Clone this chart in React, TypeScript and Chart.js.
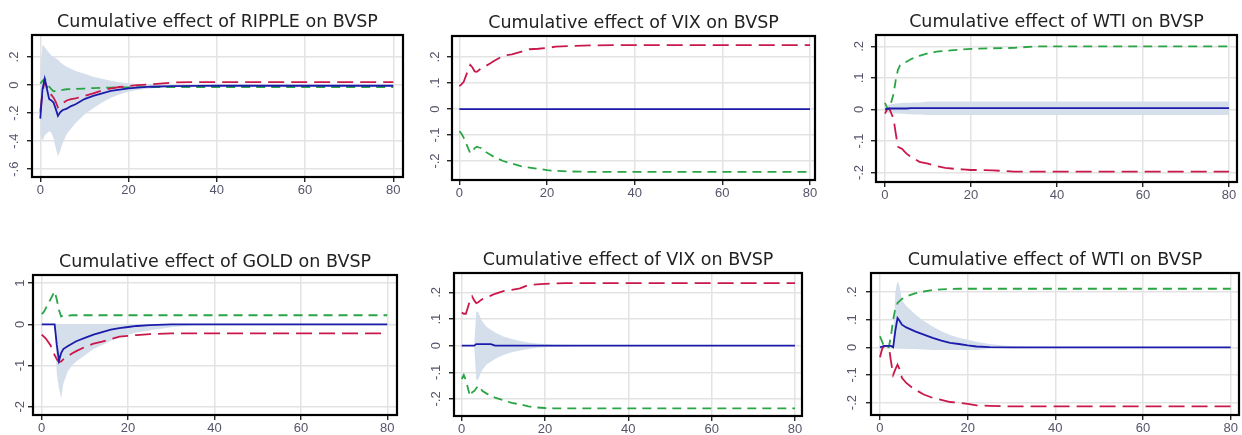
import React, { useEffect, useRef } from "react";
import { Chart, registerables } from "chart.js";

Chart.register(...registerables);

// ---------- data ----------
const STEPS = [0, 0.5, 1, 2, 2.5, 3, 3.5, 4, 4.5, 5, 6, 7, 8, 10, 12, 14, 16, 18, 20, 22, 25, 30, 35, 40, 80];
const X_TICKS = [0, 20, 40, 60, 80];
const X_TICK_LABELS = ["0", "20", "40", "60", "80"];

const Y_TICKS_RIPPLE = [-0.6, -0.4, -0.2, 0, 0.2];
const Y_LABELS_RIPPLE = ["-.6", "-.4", "-.2", "0", ".2"];
const Y_TICKS_SMALL = [-0.2, -0.1, 0, 0.1, 0.2];
const Y_LABELS_SMALL = ["-.2", "-.1", "0", ".1", ".2"];
const Y_TICKS_GOLD = [-2, -1, 0, 1];
const Y_LABELS_GOLD = ["-2", "-1", "0", "1"];

const TITLES = [
  "Cumulative effect of RIPPLE on BVSP",
  "Cumulative effect of VIX on BVSP",
  "Cumulative effect of WTI on BVSP",
  "Cumulative effect of GOLD on BVSP",
  "Cumulative effect of VIX on BVSP",
  "Cumulative effect of WTI on BVSP",
];

// Panel 1: RIPPLE
const RIPPLE_IRF = [-0.24, -0.03, 0.045, -0.1, -0.11, -0.125, -0.17, -0.22, -0.195, -0.18, -0.168, -0.15, -0.137, -0.1, -0.078, -0.06, -0.042, -0.033, -0.024, -0.018, -0.012, -0.008, -0.006, -0.005, -0.005];
const RIPPLE_HI = [0.1, 0.29, 0.27, 0.23, 0.21, 0.2, 0.19, 0.18, 0.165, 0.15, 0.13, 0.115, 0.1, 0.08, 0.06, 0.045, 0.03, 0.02, 0.012, 0.008, 0.005, 0.0, -0.005, -0.005, -0.005];
const RIPPLE_LO = [-0.35, -0.4, -0.36, -0.33, -0.34, -0.38, -0.45, -0.51, -0.47, -0.42, -0.35, -0.31, -0.27, -0.21, -0.165, -0.125, -0.09, -0.066, -0.047, -0.035, -0.024, -0.012, -0.006, -0.005, -0.005];
const RIPPLE_RED = [-0.19, -0.05, 0.03, -0.055, -0.07, -0.09, -0.12, -0.16, -0.145, -0.13, -0.11, -0.1, -0.095, -0.078, -0.06, -0.038, -0.024, -0.014, -0.007, 0.0, 0.005, 0.018, 0.021, 0.021, 0.021];
const RIPPLE_GREEN = [0.01, 0.03, 0.045, -0.01, -0.03, -0.045, -0.042, -0.04, -0.037, -0.035, -0.03, -0.029, -0.028, -0.025, -0.022, -0.02, -0.018, -0.017, -0.016, -0.015, -0.015, -0.014, -0.014, -0.014, -0.014];

// Panel 2: VIX (top)
const VIX1_IRF = [0, 0, 0, 0, 0, 0, 0, 0, 0, 0, 0, 0, 0, 0, 0, 0, 0, 0, 0, 0, 0, 0, 0, 0, 0];
const VIX1_RED = [0.088, 0.095, 0.105, 0.15, 0.17, 0.16, 0.145, 0.143, 0.15, 0.156, 0.165, 0.175, 0.186, 0.205, 0.21, 0.22, 0.23, 0.232, 0.235, 0.24, 0.242, 0.245, 0.246, 0.246, 0.246];
const VIX1_GREEN = [-0.085, -0.095, -0.11, -0.15, -0.17, -0.165, -0.15, -0.145, -0.148, -0.15, -0.165, -0.175, -0.185, -0.2, -0.21, -0.22, -0.225, -0.23, -0.235, -0.238, -0.24, -0.242, -0.242, -0.242, -0.242];

// Panel 3: WTI (top)
const WTI1_IRF = [0.0, 0.002, 0.003, 0.003, 0.003, 0.003, 0.003, 0.003, 0.003, 0.003, 0.004, 0.004, 0.004, 0.004, 0.004, 0.004, 0.004, 0.004, 0.004, 0.004, 0.004, 0.004, 0.004, 0.004, 0.004];
const WTI1_HI = [0.005, 0.012, 0.015, 0.018, 0.019, 0.02, 0.02, 0.021, 0.021, 0.021, 0.021, 0.022, 0.022, 0.025, 0.025, 0.025, 0.025, 0.025, 0.025, 0.025, 0.025, 0.025, 0.025, 0.025, 0.025];
const WTI1_LO = [-0.005, -0.01, -0.012, -0.013, -0.013, -0.013, -0.014, -0.014, -0.014, -0.015, -0.015, -0.016, -0.016, -0.018, -0.018, -0.018, -0.018, -0.018, -0.018, -0.018, -0.018, -0.018, -0.018, -0.018, -0.018];
const WTI1_RED = [-0.013, 0.0, 0.003, -0.03, -0.076, -0.118, -0.122, -0.125, -0.133, -0.14, -0.15, -0.158, -0.166, -0.172, -0.18, -0.185, -0.188, -0.19, -0.192, -0.192, -0.193, -0.197, -0.197, -0.197, -0.197];
const WTI1_GREEN = [0.021, 0.005, 0.0, 0.05, 0.093, 0.125, 0.14, 0.146, 0.148, 0.151, 0.159, 0.165, 0.17, 0.178, 0.183, 0.186, 0.188, 0.19, 0.192, 0.193, 0.194, 0.195, 0.2, 0.2, 0.2];

// Panel 4: GOLD
const GOLD_IRF = [0, 0, 0, 0, 0, 0, -0.5, -0.88, -0.7, -0.6, -0.53, -0.47, -0.41, -0.33, -0.25, -0.19, -0.13, -0.09, -0.065, -0.04, -0.02, 0, 0, 0, 0];
const GOLD_HI = [0, 0, 0, 0, 0, 0, 0, 0, 0, 0, 0, 0, 0, 0, 0, 0, 0, 0, 0, 0, 0, 0, 0, 0, 0];
const GOLD_LO = [0, 0, 0, 0, 0, 0, -1.2, -1.55, -1.8, -1.45, -1.15, -1.0, -0.9, -0.75, -0.6, -0.5, -0.4, -0.32, -0.25, -0.2, -0.15, -0.07, -0.02, 0, 0];
const GOLD_RED = [-0.25, -0.3, -0.35, -0.5, -0.62, -0.75, -0.85, -0.92, -0.9, -0.85, -0.78, -0.71, -0.65, -0.55, -0.47, -0.42, -0.36, -0.3, -0.28, -0.26, -0.24, -0.22, -0.22, -0.22, -0.22];
const GOLD_GREEN = [0.25, 0.3, 0.4, 0.6, 0.7, 0.8, 0.6, 0.35, 0.19, 0.22, 0.21, 0.22, 0.22, 0.22, 0.22, 0.22, 0.22, 0.22, 0.22, 0.22, 0.22, 0.22, 0.22, 0.22, 0.22];

// Panel 5: VIX (bottom)
const VIX2_IRF = [0, 0, 0, 0, 0, 0, 0.006, 0.006, 0.006, 0.006, 0.006, 0.006, 0, 0, 0, 0, 0, 0, 0, 0, 0, 0, 0, 0, 0];
const VIX2_HI = [0, 0, 0, 0, 0, 0, 0.13, 0.125, 0.105, 0.09, 0.07, 0.06, 0.05, 0.035, 0.025, 0.018, 0.012, 0.008, 0.006, 0.004, 0.003, 0.0015, 0, 0, 0];
const VIX2_LO = [0, 0, 0, 0, 0, 0, -0.13, -0.125, -0.105, -0.09, -0.07, -0.06, -0.05, -0.035, -0.025, -0.018, -0.012, -0.008, -0.006, -0.004, -0.003, -0.0015, 0, 0, 0];
const VIX2_RED = [0.125, 0.12, 0.12, 0.17, 0.185, 0.17, 0.16, 0.163, 0.17, 0.175, 0.18, 0.188, 0.195, 0.205, 0.21, 0.215, 0.228, 0.23, 0.232, 0.234, 0.235, 0.235, 0.235, 0.235, 0.235];
const VIX2_GREEN = [-0.125, -0.11, -0.13, -0.19, -0.175, -0.17, -0.16, -0.15, -0.16, -0.17, -0.18, -0.188, -0.195, -0.205, -0.215, -0.22, -0.228, -0.232, -0.234, -0.235, -0.235, -0.235, -0.235, -0.235, -0.235];

// Panel 6: WTI (bottom)
const WTI2_IRF = [0, 0.003, 0.005, 0.005, 0.005, 0.0, 0.06, 0.106, 0.095, 0.082, 0.072, 0.065, 0.058, 0.046, 0.034, 0.024, 0.016, 0.012, 0.007, 0.003, 0.001, 0, 0, 0, 0];
const WTI2_HI = [0, 0.003, 0.005, 0.005, 0.005, 0.005, 0.2, 0.24, 0.22, 0.17, 0.15, 0.135, 0.12, 0.095, 0.075, 0.058, 0.045, 0.035, 0.027, 0.02, 0.012, 0.004, 0, 0, 0];
const WTI2_LO = [0, 0, 0, 0, 0, 0, -0.003, -0.004, -0.005, -0.005, -0.005, -0.006, -0.006, -0.008, -0.01, -0.01, -0.01, -0.01, -0.01, -0.01, -0.005, -0.002, 0, 0, 0];
const WTI2_RED = [-0.036, -0.005, 0.005, 0.005, -0.05, -0.1, -0.08, -0.063, -0.08, -0.11, -0.129, -0.142, -0.153, -0.171, -0.183, -0.19, -0.198, -0.2, -0.205, -0.21, -0.212, -0.214, -0.214, -0.214, -0.214];
const WTI2_GREEN = [0.04, 0.02, 0.0, 0.0, 0.04, 0.1, 0.14, 0.16, 0.168, 0.175, 0.184, 0.19, 0.195, 0.202, 0.207, 0.21, 0.211, 0.212, 0.212, 0.212, 0.212, 0.212, 0.212, 0.212, 0.212];

// ---------- styles ----------
const BLUE = "#1c1cab";
const RED = "#c9194b";
const GREEN = "#2aa545";
const BAND = "#d5dfec";
const GRID = "#e3e3e3";
const TICK_TEXT = "#55556a";
const FONT_TICK = { family: "'Liberation Sans', Arial, sans-serif", size: 13 };
const FONT_TITLE = { family: "'DejaVu Sans', sans-serif", size: 17.5, weight: "normal" as const };

type PanelCfg = {
  title: string;
  box: { l: number; t: number; r: number; b: number };
  xMin: number; xMax: number; yMin: number; yMax: number;
  yTicks: number[]; yLabels: string[]; labelPad: number;
  irf: number[]; hi: number[] | null; lo: number[] | null; red: number[]; green: number[];
};

const PANELS: PanelCfg[] = [
  { title: TITLES[0], box: { l: 32, t: 35, r: 403, b: 176.5 }, xMin: -1.88, xMax: 82.2, yMin: -0.656, yMax: 0.357,
    yTicks: Y_TICKS_RIPPLE, yLabels: Y_LABELS_RIPPLE, labelPad: 4.5,
    irf: RIPPLE_IRF, hi: RIPPLE_HI, lo: RIPPLE_LO, red: RIPPLE_RED, green: RIPPLE_GREEN },
  { title: TITLES[1], box: { l: 452, t: 36, r: 815, b: 180 }, xMin: -1.67, xMax: 81.14, yMin: -0.273, yMax: 0.281,
    yTicks: Y_TICKS_SMALL, yLabels: Y_LABELS_SMALL, labelPad: 4,
    irf: VIX1_IRF, hi: null, lo: null, red: VIX1_RED, green: VIX1_GREEN },
  { title: TITLES[2], box: { l: 876, t: 35, r: 1237, b: 181.7 }, xMin: -2.09, xMax: 81.86, yMin: -0.23, yMax: 0.236,
    yTicks: Y_TICKS_SMALL, yLabels: Y_LABELS_SMALL, labelPad: 4,
    irf: WTI1_IRF, hi: WTI1_HI, lo: WTI1_LO, red: WTI1_RED, green: WTI1_GREEN },
  { title: TITLES[3], box: { l: 33, t: 275, r: 397, b: 415 }, xMin: -2.01, xMax: 82.25, yMin: -2.2, yMax: 1.197,
    yTicks: Y_TICKS_GOLD, yLabels: Y_LABELS_GOLD, labelPad: 1.5,
    irf: GOLD_IRF, hi: GOLD_HI, lo: GOLD_LO, red: GOLD_RED, green: GOLD_GREEN },
  { title: TITLES[4], box: { l: 454, t: 273, r: 802, b: 416 }, xMin: -1.85, xMax: 81.68, yMin: -0.264, yMax: 0.273,
    yTicks: Y_TICKS_SMALL, yLabels: Y_LABELS_SMALL, labelPad: 5,
    irf: VIX2_IRF, hi: VIX2_HI, lo: VIX2_LO, red: VIX2_RED, green: VIX2_GREEN },
  { title: TITLES[5], box: { l: 871, t: 273, r: 1239, b: 415 }, xMin: -2.05, xMax: 81.9, yMin: -0.245, yMax: 0.269,
    yTicks: Y_TICKS_SMALL, yLabels: Y_LABELS_SMALL, labelPad: 5.5,
    irf: WTI2_IRF, hi: WTI2_HI, lo: WTI2_LO, red: WTI2_RED, green: WTI2_GREEN },
];

const AXIS_W = 30;
const TITLE_H = 24;
const XAXIS_H = 28;

const framePlugin = {
  id: "frame",
  afterDraw(chart: any) {
    const { ctx, chartArea: a } = chart;
    ctx.save();
    ctx.strokeStyle = "#000";
    ctx.lineWidth = 2.2;
    ctx.strokeRect(a.left, a.top, a.right - a.left, a.bottom - a.top);
    ctx.restore();
  },
};

function Panel({ cfg }: { cfg: PanelCfg }) {
  const ref = useRef<HTMLCanvasElement>(null);
  const { l, t, r, b } = cfg.box;
  const W = Math.round(r - l) + 2 * AXIS_W;
  const H = Math.round(b - t) + TITLE_H + XAXIS_H;

  useEffect(() => {
    if (!ref.current) return;
    const pts = (arr: number[]) => STEPS.map((x, i) => ({ x, y: arr[i] }));
    const datasets: any[] = [];
    if (cfg.lo && cfg.hi) {
      datasets.push({ data: pts(cfg.lo), borderWidth: 0, borderColor: "rgba(0,0,0,0)", pointRadius: 0, fill: false, order: 10 });
      datasets.push({ data: pts(cfg.hi), borderWidth: 0, borderColor: "rgba(0,0,0,0)", pointRadius: 0, fill: "-1", backgroundColor: BAND, order: 9 });
    }
    datasets.push({ data: pts(cfg.green), borderColor: GREEN, borderDash: [9, 6], borderWidth: 1.8, pointRadius: 0, fill: false, order: 3 });
    datasets.push({ data: pts(cfg.red), borderColor: RED, borderDash: [16, 7], borderWidth: 1.8, pointRadius: 0, fill: false, order: 2 });
    datasets.push({ data: pts(cfg.irf), borderColor: BLUE, borderWidth: 1.8, pointRadius: 0, fill: false, order: 1 });

    const gridOpts = { color: GRID, lineWidth: 1.5, tickColor: "#000", tickLength: 5, tickWidth: 1.2 };

    const chart = new Chart(ref.current, {
      type: "line",
      data: { datasets },
      plugins: [framePlugin],
      options: {
        responsive: false,
        animation: false,
        devicePixelRatio: 1,
        layout: { padding: 0 },
        plugins: {
          legend: { display: false },
          tooltip: { enabled: false },
          title: {
            display: true,
            text: cfg.title,
            font: FONT_TITLE,
            color: "#222",
            padding: { top: 1, bottom: 2 },
          },
        },
        scales: {
          x: {
            type: "linear",
            position: "bottom",
            min: cfg.xMin,
            max: cfg.xMax,
            afterBuildTicks: (s: any) => { s.ticks = X_TICKS.map((v) => ({ value: v })); },
            afterFit: (s: any) => { s.height = XAXIS_H; },
            ticks: {
              font: FONT_TICK, color: TICK_TEXT, padding: 1, autoSkip: false,
              minRotation: 0, maxRotation: 0,
              callback: (_v: any, i: number) => X_TICK_LABELS[i],
            },
            grid: gridOpts,
            border: { display: false },
          },
          y: {
            type: "linear",
            position: "left",
            min: cfg.yMin,
            max: cfg.yMax,
            afterBuildTicks: (s: any) => { s.ticks = cfg.yTicks.map((v) => ({ value: v })); },
            afterFit: (s: any) => { s.width = AXIS_W; },
            ticks: {
              font: FONT_TICK, color: TICK_TEXT, padding: cfg.labelPad, autoSkip: false,
              minRotation: 90, maxRotation: 90, crossAlign: "center",
              callback: (_v: any, i: number) => cfg.yLabels[i],
            },
            grid: gridOpts,
            border: { display: false },
          },
          y2: {
            type: "linear",
            position: "right",
            display: true,
            ticks: { display: false },
            grid: { display: false },
            border: { display: false },
            afterFit: (s: any) => { s.width = AXIS_W; },
          },
        },
      } as any,
    });
    return () => chart.destroy();
  }, [cfg]);

  return (
    <canvas
      ref={ref}
      width={W}
      height={H}
      style={{ position: "absolute", left: l - AXIS_W, top: t - TITLE_H, width: W, height: H }}
    />
  );
}

export default function App() {
  return (
    <div
      style={{
        position: "absolute",
        left: 0,
        top: 0,
        width: 1242,
        height: 435,
        overflow: "hidden",
        background: "#ffffff",
      }}
    >
      {PANELS.map((p, i) => (
        <Panel key={i} cfg={p} />
      ))}
    </div>
  );
}
